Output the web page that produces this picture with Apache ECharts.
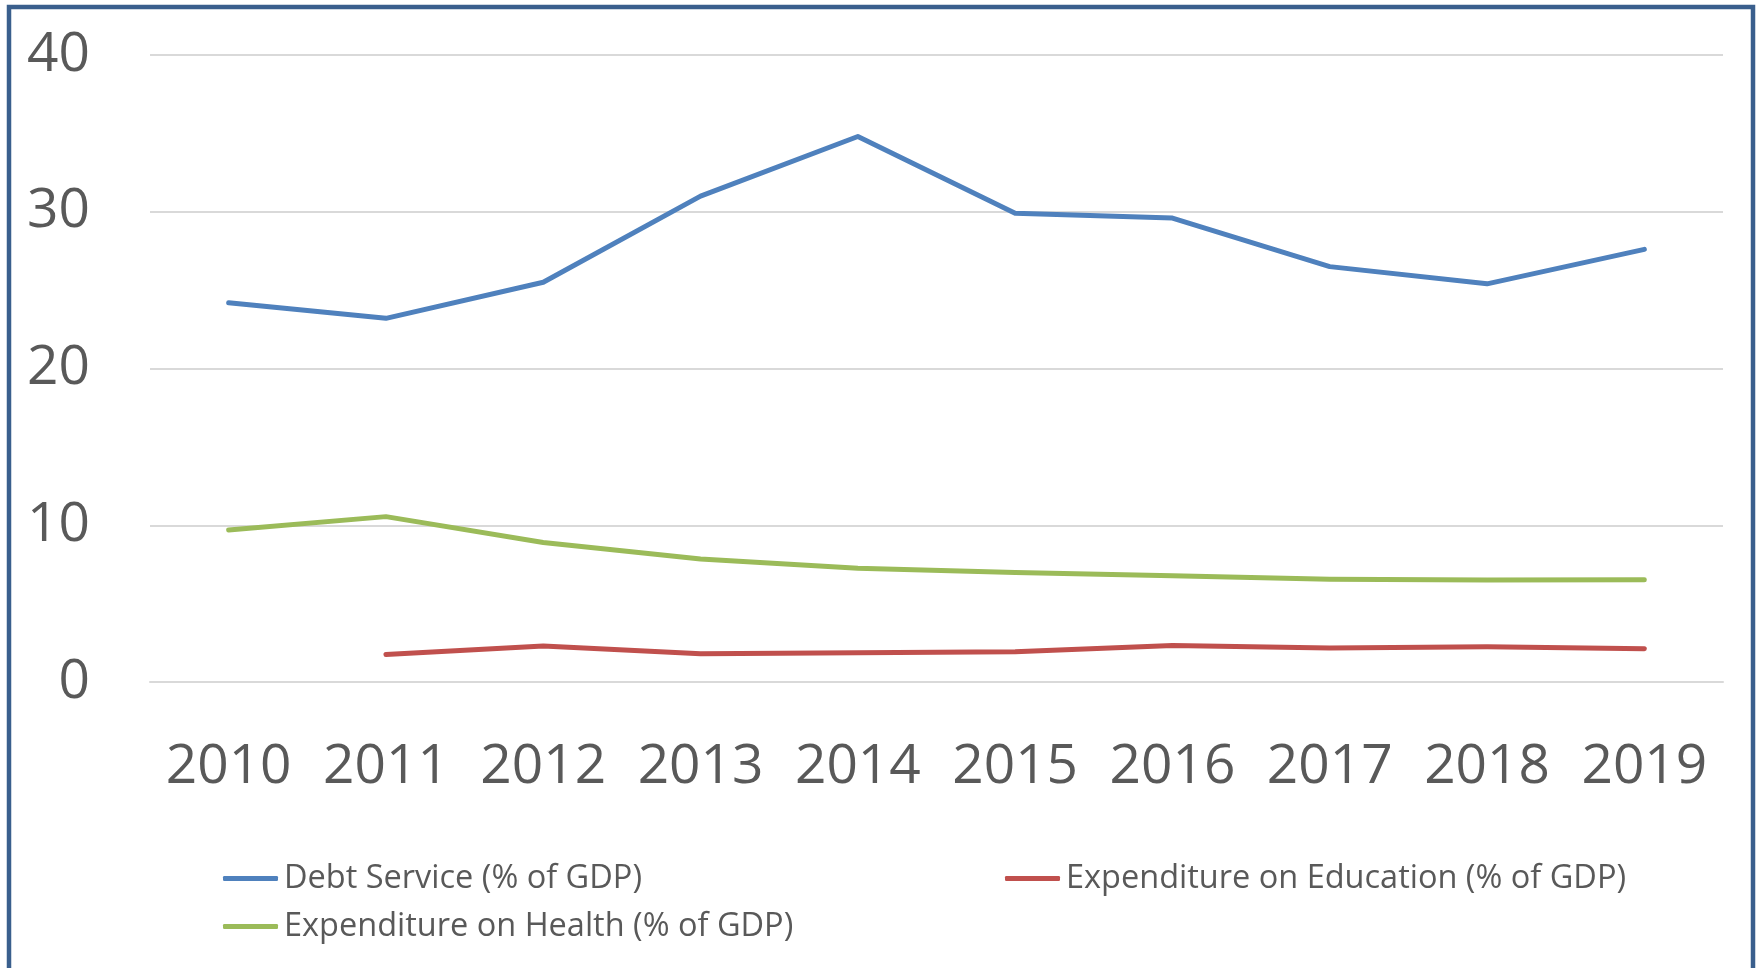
<!DOCTYPE html>
<html>
<head>
<meta charset="utf-8">
<script src="https://cdn.jsdelivr.net/npm/echarts@6/dist/echarts.min.js"></script>
<style>
  html, body { margin: 0; padding: 0; background: #ffffff; }
  #chart { width: 1756px; height: 968px; }
</style>
</head>
<body>
<div id="chart"></div>
<script>
// Years on the category axis
const years = ['2010', '2011', '2012', '2013', '2014', '2015', '2016', '2017', '2018', '2019'];

// Shares of GDP, in percent
const debtService = [24.2, 23.2, 25.5, 31.0, 34.8, 29.9, 29.6, 26.5, 25.4, 27.6];
const educationSpending = [null, 1.75, 2.3, 1.8, 1.87, 1.93, 2.33, 2.17, 2.25, 2.12];
const healthSpending = [9.7, 10.55, 8.9, 7.85, 7.25, 6.99, 6.78, 6.55, 6.5, 6.52];

// Value axis ticks
const yTicks = { min: 0, max: 40, step: 10 };

const seriesNames = {
  debt: 'Debt Service (% of GDP)',
  edu: 'Expenditure on Education (% of GDP)',
  health: 'Expenditure on Health (% of GDP)'
};

const FONT = '"Open Sans", "Noto Sans", sans-serif';
const TEXT = '#595959';
const GRID = '#D9D9D9';

function lineSeries(name, data, color) {
  return {
    name: name,
    type: 'line',
    data: data,
    symbol: 'none',
    showSymbol: false,
    color: color,
    lineStyle: { width: 5, color: color, cap: 'round', join: 'round' },
    emphasis: { disabled: true },
    animation: false
  };
}

const chart = echarts.init(document.getElementById('chart'), null, { renderer: 'canvas' });

const legendCommon = {
  orient: 'vertical',
  padding: 0,
  itemWidth: 55,
  itemHeight: 5,
  itemGap: 15,
  icon: 'roundRect',
  selectedMode: false,
  textStyle: { fontFamily: FONT, fontSize: 32.5, color: TEXT, padding: [0, 0, 0, 1] }
};

chart.setOption({
  backgroundColor: '#ffffff',
  animation: false,
  textStyle: { fontFamily: FONT },
  grid: { left: 150, right: 33, top: 55, bottom: 286, containLabel: false },
  xAxis: {
    type: 'category',
    data: years,
    boundaryGap: true,
    axisLine: { show: true, lineStyle: { color: GRID, width: 2 } },
    axisTick: { show: false },
    axisLabel: { interval: 0, color: TEXT, fontFamily: FONT, fontSize: 55, margin: 58 }
  },
  yAxis: {
    type: 'value',
    min: yTicks.min,
    max: yTicks.max,
    interval: yTicks.step,
    axisLine: { show: false },
    axisTick: { show: false },
    splitLine: { show: true, lineStyle: { color: GRID, width: 2 } },
    axisLabel: { color: TEXT, fontFamily: FONT, fontSize: 55, margin: 60 }
  },
  legend: [
    Object.assign({}, legendCommon, {
      data: [seriesNames.debt, seriesNames.health],
      left: 223,
      top: 862
    }),
    Object.assign({}, legendCommon, {
      data: [seriesNames.edu],
      left: 1005,
      top: 862
    })
  ],
  graphic: [
    {
      type: 'rect',
      silent: true,
      z: 100,
      shape: { x: 9, y: 7, width: 1744, height: 1000 },
      style: { fill: 'none', stroke: '#3A5F8D', lineWidth: 4.5 }
    }
  ],
  series: [
    lineSeries(seriesNames.debt, debtService, '#4F81BD'),
    lineSeries(seriesNames.edu, educationSpending, '#C0504D'),
    lineSeries(seriesNames.health, healthSpending, '#9BBB59')
  ]
});
</script>
</body>
</html>
